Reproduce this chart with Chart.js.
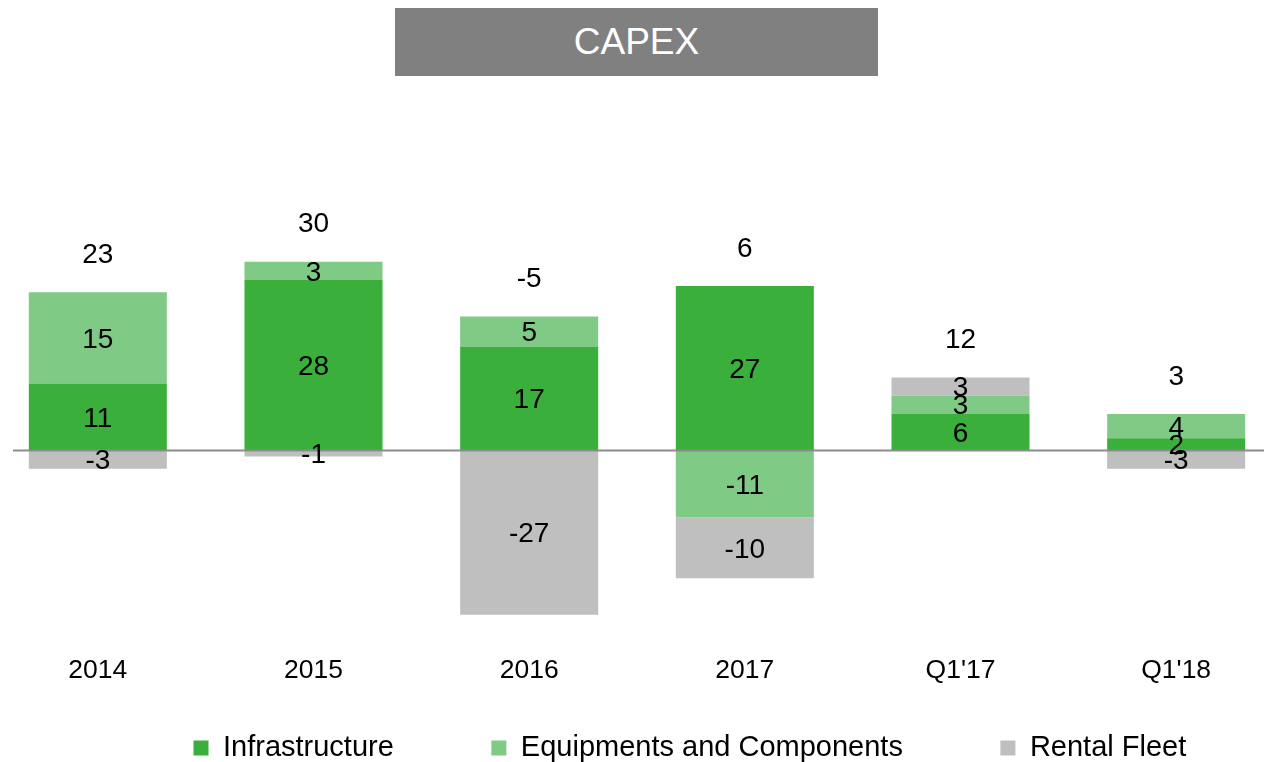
<!DOCTYPE html>
<html>
<head>
<meta charset="utf-8">
<title>CAPEX</title>
<script src="https://cdn.jsdelivr.net/npm/chart.js@4"></script>
<style>
  html, body { margin: 0; padding: 0; background: #fff; overflow: hidden; }
  body { width: 1264px; height: 762px; position: relative; }
  #title {
    position: absolute; left: 395px; top: 8px; width: 483px; height: 68px;
    background: #808080; color: #fff; z-index: 2;
    font: 37px "Liberation Sans", Arial, sans-serif;
    line-height: 68px; text-align: center;
  }
  #chart { position: absolute; left: -10px; top: 0; }
</style>
</head>
<body>
<div id="title">CAPEX</div>
<canvas id="chart" width="1294" height="762"></canvas>
<script>
const categories = ["2014", "2015", "2016", "2017", "Q1'17", "Q1'18"];
const infrastructure = [11, 28, 17, 27, 6, 2];
const equipments = [15, 3, 5, -11, 3, 4];
const rentalFleet = [-3, -1, -27, -10, 3, -3];

const FONT = "'Liberation Sans', Arial, sans-serif";
const LEGEND_PAD = 97.5;

// wide label padding spaces the legend items, then move the box so the row sits at y~746
// (legend clips to its own box, so give it the full height back)
const legendPlace = {
  id: "legendPlace",
  afterLayout(chart) {
    const lg = chart.legend;
    const dx = 106 - lg.left;
    lg.left += dx; lg.right += dx;
    lg.top = 636;
    lg.bottom = chart.height;
    lg.height = lg.bottom - lg.top;
  }
};

// zero line, segment values and totals above each column
const valueLabels = {
  id: "valueLabels",
  afterDatasetsDraw(chart) {
    const ctx = chart.ctx;
    const y = chart.scales.y;
    const y0 = y.getPixelForValue(0);

    ctx.save();
    ctx.strokeStyle = "#8c8c8c";
    ctx.lineWidth = 2;
    ctx.beginPath();
    ctx.moveTo(23, y0);
    ctx.lineTo(chart.width, y0);
    ctx.stroke();

    ctx.fillStyle = "#000";
    ctx.font = "28px " + FONT;
    ctx.textAlign = "center";
    ctx.textBaseline = "middle";

    chart.data.datasets.forEach((ds, i) => {
      chart.getDatasetMeta(i).data.forEach((bar, j) => {
        ctx.fillText(String(ds.data[j]), bar.x, (bar.y + bar.base) / 2 + 2);
      });
    });

    const meta = chart.getDatasetMeta(0);
    categories.forEach((c, j) => {
      let pos = 0, total = 0;
      chart.data.datasets.forEach(ds => {
        const v = ds.data[j];
        total += v;
        if (v > 0) pos += v;
      });
      ctx.fillText(String(total), meta.data[j].x, y.getPixelForValue(pos) - 37);
    });
    ctx.restore();
  }
};

new Chart(document.getElementById("chart"), {
  type: "bar",
  data: {
    labels: categories,
    datasets: [
      { label: "Infrastructure", data: infrastructure, backgroundColor: "#3baf3b" },
      { label: "Equipments and Components", data: equipments, backgroundColor: "#7fca85" },
      { label: "Rental Fleet", data: rentalFleet, backgroundColor: "#bfbfbf" }
    ]
  },
  options: {
    responsive: false,
    animation: false,
    devicePixelRatio: 1,
    layout: { padding: 0 },
    datasets: {
      bar: { categoryPercentage: 1, barPercentage: 0.64, borderWidth: 0 }
    },
    scales: {
      x: {
        stacked: true,
        grid: { display: false, drawTicks: false },
        border: { display: false },
        ticks: { color: "#000", padding: 10, font: { family: FONT, size: 26.5 } }
      },
      y: {
        stacked: true,
        display: false,
        min: -32,
        max: 74
      }
    },
    plugins: {
      tooltip: { enabled: false },
      title: { display: false },
      legend: {
        position: "bottom",
        align: "start",
        maxHeight: 65,
        labels: {
          boxWidth: 15,
          boxHeight: 15,
          padding: LEGEND_PAD,
          color: "#000",
          font: { family: FONT, size: 29 }
        }
      }
    }
  },
  plugins: [legendPlace, valueLabels]
});
</script>
</body>
</html>
